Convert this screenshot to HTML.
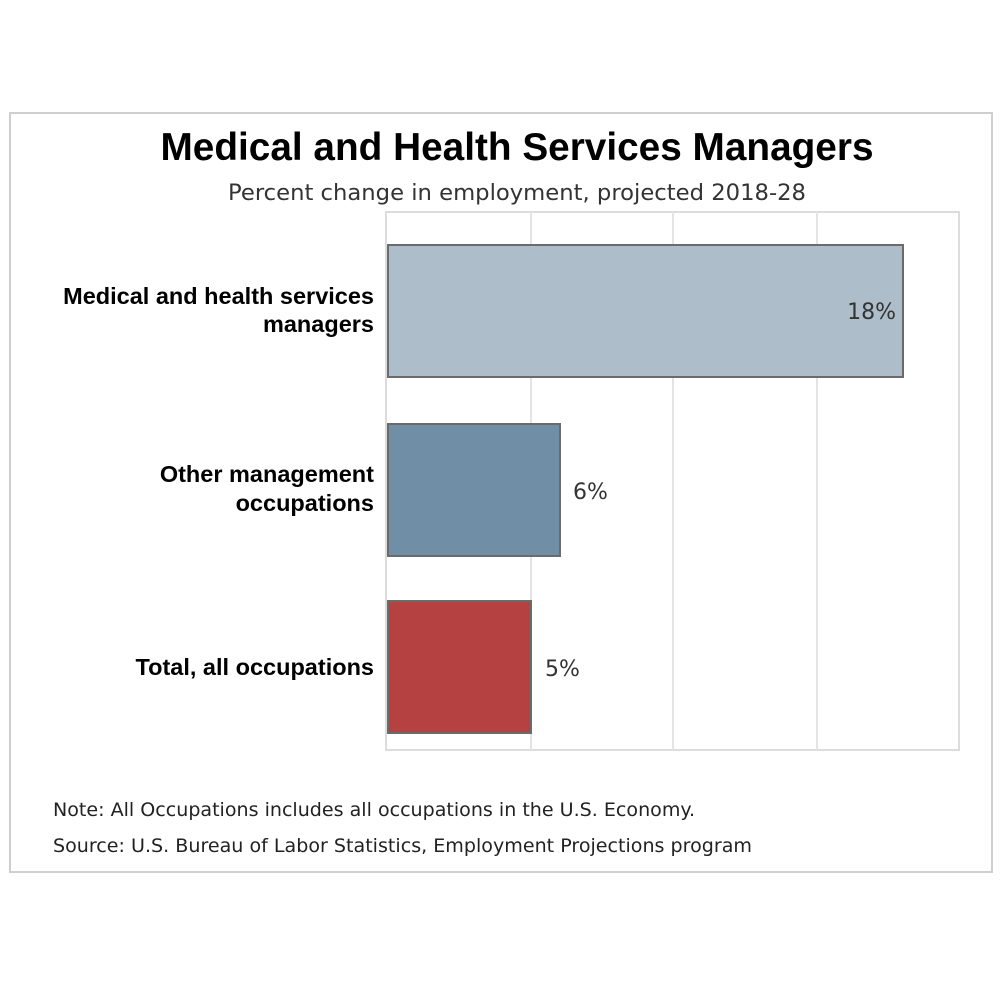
<!DOCTYPE html>
<html><head><meta charset="utf-8"><style>
body{margin:0;background:#fff;}
</style></head><body>
<svg width="1000" height="1000" xmlns="http://www.w3.org/2000/svg" style="display:block">
<rect x="0" y="0" width="1000" height="1000" fill="#fff"/>
<rect x="10" y="113" width="982" height="759" fill="#fff" stroke="#cfcfcf" stroke-width="2"/>
<text x="517" y="160" text-anchor="middle" font-family="Liberation Sans, sans-serif" font-weight="bold" font-size="38.5" fill="#000" textLength="713" lengthAdjust="spacingAndGlyphs">Medical and Health Services Managers</text>
<text x="517" y="200" text-anchor="middle" font-family="DejaVu Sans, sans-serif" font-size="22.5" fill="#333" textLength="578" lengthAdjust="spacingAndGlyphs">Percent change in employment, projected 2018-28</text>
<rect x="386" y="212" width="573" height="538" fill="#fff" stroke="#dcdcdc" stroke-width="2"/>
<line x1="531" y1="212" x2="531" y2="750" stroke="#e4e4e4" stroke-width="2"/>
<line x1="673" y1="212" x2="673" y2="750" stroke="#e4e4e4" stroke-width="2"/>
<line x1="817" y1="212" x2="817" y2="750" stroke="#e4e4e4" stroke-width="2"/>
<rect x="388" y="245" width="515" height="132" fill="#adbdc9" stroke="#6b6b6b" stroke-width="2"/>
<rect x="388" y="424" width="172" height="132" fill="#708fa7" stroke="#6b6b6b" stroke-width="2"/>
<rect x="388" y="601" width="143" height="132" fill="#b54141" stroke="#6b6b6b" stroke-width="2"/>
<g font-family="DejaVu Sans, sans-serif" font-size="22" fill="#333">
<text x="896" y="319" text-anchor="end">18%</text>
<text x="573" y="499">6%</text>
<text x="545" y="676">5%</text>
</g>
<g font-family="Liberation Sans, sans-serif" font-weight="bold" font-size="23.5" fill="#000" text-anchor="end">
<text x="374" y="304">Medical and health services</text>
<text x="374" y="332">managers</text>
<text x="374" y="482">Other management</text>
<text x="374" y="511">occupations</text>
<text x="374" y="675">Total, all occupations</text>
</g>
<g font-family="DejaVu Sans, sans-serif" font-size="19" fill="#222">
<text x="53" y="816" textLength="642" lengthAdjust="spacingAndGlyphs">Note: All Occupations includes all occupations in the U.S. Economy.</text>
<text x="53" y="852" textLength="699" lengthAdjust="spacingAndGlyphs">Source: U.S. Bureau of Labor Statistics, Employment Projections program</text>
</g>
</svg>
</body></html>
